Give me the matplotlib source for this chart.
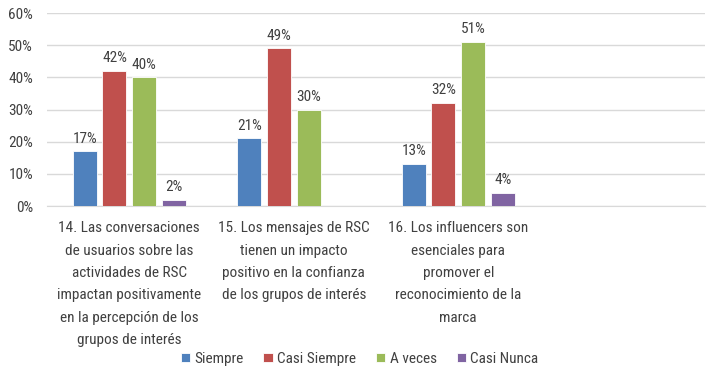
import numpy as np
import matplotlib.pyplot as plt
from matplotlib import font_manager

names = {f.name for f in font_manager.fontManager.ttflist}
fam = [f for f in ['Roboto Condensed', 'Liberation Sans Narrow', 'Roboto', 'DejaVu Sans'] if f in names]
plt.rcParams['font.family'] = fam

categories = ['14. Las conversaciones\nde usuarios sobre las\nactividades de RSC\nimpactan positivamente\nen la percepción de los\ngrupos de interés',
              '15. Los mensajes de RSC\ntienen un impacto\npositivo en la confianza\nde los grupos de interés',
              '16. Los influencers son\nesenciales para\npromover el\nreconocimiento de la\nmarca',
              '']
series = ['Siempre', 'Casi Siempre', 'A veces', 'Casi Nunca']
siempre = [17, 21, 13, np.nan]
casi_siempre = [42, 49, 32, np.nan]
a_veces = [40, 30, 51, np.nan]
casi_nunca = [2, np.nan, 4, np.nan]
colors = ['#4F81BD', '#C0504D', '#9BBB59', '#8064A2']

fig = plt.figure(figsize=(7.08, 3.69), dpi=100)
ax = fig.add_axes([47/708, 1-206/369, 658/708, 193/369])

x = np.arange(len(categories))
w = 0.146
step = 0.18
tc = '#404040'
fs = 11
for i, (vals, c, name) in enumerate(zip([siempre, casi_siempre, a_veces, casi_nunca], colors, series)):
    v = np.array(vals, dtype=float) / 100
    pos = x + (i - 1.5) * step
    ax.bar(pos, v, w, color=c, edgecolor='white', linewidth=0.6, label=name, zorder=3)
    for p, val in zip(pos, v):
        if not np.isnan(val):
            ax.text(p, val + 0.018, f'{val*100:.0f}%', ha='center', va='bottom',
                    fontsize=fs, color=tc)

ax.set_xlim(-0.5, len(categories) - 0.5)
ax.set_ylim(0, 0.6)
ax.set_yticks(np.arange(0, 0.61, 0.1))
ax.set_yticklabels([f'{int(t*100)}%' for t in np.arange(0, 0.61, 0.1)])
ax.set_xticks(x)
ax.set_xticklabels(categories, linespacing=1.76)
ax.tick_params(length=0, labelsize=fs, labelcolor=tc)
ax.tick_params(axis='x', pad=11)
ax.tick_params(axis='y', pad=10)
ax.grid(axis='y', color='#D9D9D9', linewidth=1, zorder=0)
for s in ['top', 'right', 'left']:
    ax.spines[s].set_visible(False)
ax.spines['bottom'].set_color('#D9D9D9')

ax.legend(loc='lower center', bbox_to_anchor=(0.475, -0.9), ncol=4, frameon=False,
          fontsize=fs, handlelength=0.6, handleheight=0.6, handletextpad=0.3,
          columnspacing=1.3, labelcolor=tc)

fig.savefig('out.png', dpi=100)
